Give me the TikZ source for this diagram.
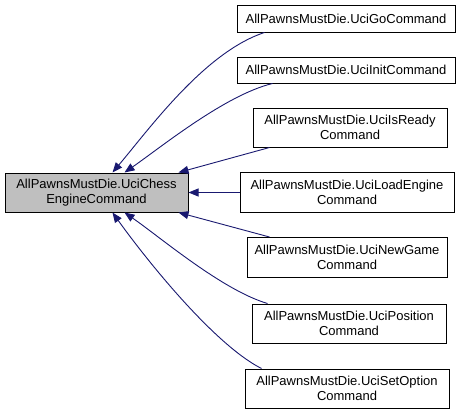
\documentclass[tikz,border=0pt]{standalone}
\usepackage{fontspec}
\setmainfont{Liberation Sans}
\usepackage{xcolor}
\definecolor{edgeblue}{HTML}{191970}
\definecolor{basegray}{HTML}{BFBFBF}
\usepackage{tikz}
\usetikzlibrary{arrows.meta}

\begin{document}
\begin{tikzpicture}[x=1pt, y=-1pt,
    every node/.style={font=\fontsize{13}{15}\selectfont},
    cls/.style={draw=black, fill=white, line width=1pt, align=center,
                inner sep=0pt},
    basecls/.style={cls, fill=basegray},
    arr/.style={-{Triangle[length=10pt,width=8pt]}, draw=edgeblue,
                line width=0.9pt}]
  \useasboundingbox (0,0) rectangle (465,415);
  % base class
  \node[basecls, minimum width=183pt, minimum height=39pt] (base) at (96.5,192.5)
    {AllPawnsMustDie.UciChess\\EngineCommand};
  % derived classes
  \node[cls, minimum width=218pt, minimum height=27pt] (go) at (346,18.5)
    {AllPawnsMustDie.UciGoCommand};
  \node[cls, minimum width=218pt, minimum height=26pt] (init) at (346,70)
    {AllPawnsMustDie.UciInitCommand};
  \node[cls, minimum width=194pt, minimum height=39pt] (ready) at (350,127.5)
    {AllPawnsMustDie.UciIsReady\\Command};
  \node[cls, minimum width=214pt, minimum height=40pt] (load) at (347,192.5)
    {AllPawnsMustDie.UciLoadEngine\\Command};
  \node[cls, minimum width=200pt, minimum height=40pt] (newgame) at (347,257.5)
    {AllPawnsMustDie.UciNewGame\\Command};
  \node[cls, minimum width=194pt, minimum height=39pt] (position) at (349,323.5)
    {AllPawnsMustDie.UciPosition\\Command};
  \node[cls, minimum width=204pt, minimum height=39pt] (setopt) at (347,388.5)
    {AllPawnsMustDie.UciSetOption\\Command};
  % inheritance edges
  \draw[arr] ([xshift=28pt]go.south west) .. controls (205,52) and (150,128)
    .. ([xshift=108pt]base.north west);
  \draw[arr] ([xshift=36pt]init.south west) .. controls (225,95) and (160,148)
    .. ([xshift=120pt]base.north west);
  \draw[arr] ([xshift=17pt]ready.south west) -- ([xshift=-10pt]base.north east);
  \draw[arr] (load.west) -- (base.east);
  \draw[arr] ([xshift=23pt]newgame.north west) -- ([xshift=-10pt]base.south east);
  \draw[arr] ([xshift=16pt]position.north west) .. controls (222,290) and (160,237)
    .. ([xshift=120pt]base.south west);
  \draw[arr] ([xshift=17pt]setopt.north west) .. controls (215,345) and (148,262)
    .. ([xshift=108pt]base.south west);
\end{tikzpicture}
\end{document}
